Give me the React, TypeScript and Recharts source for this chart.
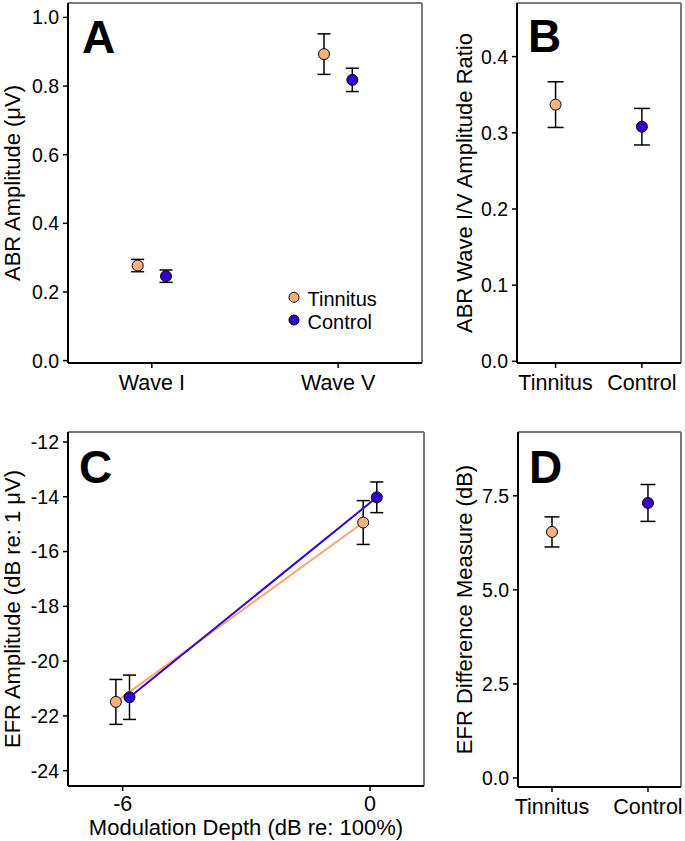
import React from 'react';
import {
  ScatterChart,
  Scatter,
  XAxis,
  YAxis,
  ErrorBar,
  ReferenceLine,
  Customized,
  Label,
} from 'recharts';

const FONT = '"Liberation Sans", Arial, Helvetica, sans-serif';
const TINNITUS_COLOR = '#FCAF7E';
const CONTROL_COLOR = '#3300CC';
const FRAME_COLOR = '#7a7a7a';

// ---------- Panel A: ABR amplitude ----------
const waveCategories = ['Wave I', 'Wave V'];
const abrTinnitusMean = [0.277, 0.893];
const abrTinnitusSem = [0.018, 0.059];
const abrControlMean = [0.246, 0.818];
const abrControlSem = [0.018, 0.034];
const abrTicks = [0, 0.2, 0.4, 0.6, 0.8, 1.0];

// ---------- Panel B: wave I/V ratio ----------
const groupCategories = ['Tinnitus', 'Control'];
const ratioMean = [0.337, 0.308];
const ratioSem = [0.03, 0.024];
const ratioTicks = [0, 0.1, 0.2, 0.3, 0.4];

// ---------- Panel C: EFR amplitude ----------
const modDepths = [-6, 0];
const efrTinnitusMean = [-21.49, -14.94];
const efrTinnitusSem = [0.82, 0.8];
const efrControlMean = [-21.32, -14.02];
const efrControlSem = [0.81, 0.56];
const efrTicks = [-24, -22, -20, -18, -16, -14, -12];

// ---------- Panel D: EFR difference ----------
const diffMean = [6.54, 7.31];
const diffSem = [0.4, 0.49];
const diffTicks = [0, 2.5, 5.0, 7.5];

const seriesNames = ['Tinnitus', 'Control'];
const seriesColors = [TINNITUS_COLOR, CONTROL_COLOR];

// group offsets (horizontal dodge)
const catDodge = 0.076;
const depthDodge = 0.165;

const abrTinnitusData = waveCategories.map((c, i) => ({ x: i + 1 - catDodge, y: abrTinnitusMean[i], err: abrTinnitusSem[i] }));
const abrControlData = waveCategories.map((c, i) => ({ x: i + 1 + catDodge, y: abrControlMean[i], err: abrControlSem[i] }));
const ratioTinnitusData = [{ x: 1, y: ratioMean[0], err: ratioSem[0] }];
const ratioControlData = [{ x: 2, y: ratioMean[1], err: ratioSem[1] }];
const efrTinnitusData = modDepths.map((d, i) => ({ x: d - depthDodge, y: efrTinnitusMean[i], err: efrTinnitusSem[i] }));
const efrControlData = modDepths.map((d, i) => ({ x: d + depthDodge, y: efrControlMean[i], err: efrControlSem[i] }));
const diffTinnitusData = [{ x: 1, y: diffMean[0], err: diffSem[0] }];
const diffControlData = [{ x: 2, y: diffMean[1], err: diffSem[1] }];

const axisLine = { stroke: '#000', strokeWidth: 2 };
const tickLine = { stroke: '#000', strokeWidth: 1.5 };
const numTick = { fill: '#000', fontSize: 19.5, fontFamily: FONT };
const catTick = { fill: '#000', fontSize: 21.5, fontFamily: FONT };

const makeDot = (fill: string, r = 5.5) => (props: any) => {
  if (props.cx == null || props.cy == null) return <g />;
  return <circle cx={props.cx} cy={props.cy} r={r} fill={fill} stroke="#000" strokeWidth={1} />;
};

const yTitle = (text: string, baselineX: number) => (props: any) => {
  const vb = props.viewBox || {};
  const cy = (vb.y || 0) + (vb.height || 0) / 2;
  return (
    <text
      x={baselineX}
      y={cy}
      transform={`rotate(-90, ${baselineX}, ${cy})`}
      textAnchor="middle"
      fontSize={22}
      fontFamily={FONT}
      fill="#000"
    >
      {text}
    </text>
  );
};

const xTitle = (text: string, baselineY: number) => (props: any) => {
  const vb = props.viewBox || {};
  const cx = (vb.x || 0) + (vb.width || 0) / 2;
  return (
    <text x={cx} y={baselineY} textAnchor="middle" fontSize={22} fontFamily={FONT} fill="#000">
      {text}
    </text>
  );
};

const PanelLetter = ({ letter, x, y }: { letter: string; x: number; y: number }) => (
  <text x={x} y={y} fontSize={46} fontWeight="bold" fontFamily={FONT} fill="#000">
    {letter}
  </text>
);

const LegendA = () => (
  <g>
    {seriesNames.map((n, i) => (
      <g key={n}>
        <circle cx={294} cy={297.3 + i * 22.7} r={5} fill={seriesColors[i]} stroke="#000" strokeWidth={1} />
        <text x={307.5} y={306.3 + i * 22.7} fontSize={20} fontFamily={FONT} fill="#000">
          {n}
        </text>
      </g>
    ))}
  </g>
);

const abrX: [number, number] = [0.55, 2.45];
const abrY: [number, number] = [-0.007, 1.042];
const ratioX: [number, number] = [0.553, 2.453];
const ratioY: [number, number] = [-0.0022, 0.4704];
const efrX: [number, number] = [-7.327, 1.31];
const efrY: [number, number] = [-24.56, -11.635];
const diffX: [number, number] = [0.646, 2.344];
const diffY: [number, number] = [-0.24, 9.196];

const frame = (xd: [number, number], yd: [number, number]) => [
  <ReferenceLine key="ft" y={yd[1]} stroke={FRAME_COLOR} strokeWidth={2} ifOverflow="visible" />,
  <ReferenceLine key="fr" x={xd[1]} stroke={FRAME_COLOR} strokeWidth={2} ifOverflow="visible" />,
];

export default function App() {
  return (
    <div style={{ position: 'absolute', left: 0, top: 0, width: 685, height: 841, background: '#fff' }}>
      {/* Panel A */}
      <div style={{ position: 'absolute', left: 0, top: 0 }}>
        <ScatterChart width={440} height={410} margin={{ top: 3, right: 18, left: 0, bottom: 0 }}>
          <XAxis
            type="number"
            dataKey="x"
            domain={abrX}
            allowDataOverflow
            ticks={[1, 2]}
            tickFormatter={(v: number) => waveCategories[Math.round(v) - 1]}
            height={47}
            axisLine={axisLine}
            tickLine={tickLine}
            tickSize={5}
            tickMargin={7}
            tick={catTick}
          />
          <YAxis
            type="number"
            dataKey="y"
            domain={abrY}
            allowDataOverflow
            ticks={abrTicks}
            tickFormatter={(v: number) => v.toFixed(1)}
            width={68}
            axisLine={axisLine}
            tickLine={tickLine}
            tickSize={5}
            tickMargin={4}
            tick={numTick}
          >
            <Label content={yTitle('ABR Amplitude (\u03BCV)', 19.5)} />
          </YAxis>
          {frame(abrX, abrY)}
          <Scatter name="Tinnitus" data={abrTinnitusData} shape={makeDot(TINNITUS_COLOR)} isAnimationActive={false}>
            <ErrorBar dataKey="err" direction="y" width={6.5} stroke="#000" strokeWidth={1.5} isAnimationActive={false} />
          </Scatter>
          <Scatter name="Control" data={abrControlData} shape={makeDot(CONTROL_COLOR)} isAnimationActive={false}>
            <ErrorBar dataKey="err" direction="y" width={6.5} stroke="#000" strokeWidth={1.5} isAnimationActive={false} />
          </Scatter>
          <Customized component={() => <PanelLetter letter="A" x={82} y={53} />} />
          <Customized component={LegendA} />
        </ScatterChart>
      </div>

      {/* Panel B */}
      <div style={{ position: 'absolute', left: 440, top: 0 }}>
        <ScatterChart width={245} height={410} margin={{ top: 3, right: 4, left: 0, bottom: 0 }}>
          <XAxis
            type="number"
            dataKey="x"
            domain={ratioX}
            allowDataOverflow
            ticks={[1, 2]}
            tickFormatter={(v: number) => groupCategories[Math.round(v) - 1]}
            height={47}
            axisLine={axisLine}
            tickLine={tickLine}
            tickSize={5}
            tickMargin={7}
            tick={catTick}
            interval={0}
          />
          <YAxis
            type="number"
            dataKey="y"
            domain={ratioY}
            allowDataOverflow
            ticks={ratioTicks}
            tickFormatter={(v: number) => v.toFixed(1)}
            width={77}
            axisLine={axisLine}
            tickLine={tickLine}
            tickSize={5}
            tickMargin={4}
            tick={numTick}
          >
            <Label content={yTitle('ABR Wave I/V Amplitude Ratio', 31.5)} />
          </YAxis>
          {frame(ratioX, ratioY)}
          <Scatter name="Tinnitus" data={ratioTinnitusData} shape={makeDot(TINNITUS_COLOR)} isAnimationActive={false}>
            <ErrorBar dataKey="err" direction="y" width={8} stroke="#000" strokeWidth={1.5} isAnimationActive={false} />
          </Scatter>
          <Scatter name="Control" data={ratioControlData} shape={makeDot(CONTROL_COLOR)} isAnimationActive={false}>
            <ErrorBar dataKey="err" direction="y" width={8} stroke="#000" strokeWidth={1.5} isAnimationActive={false} />
          </Scatter>
          <Customized component={() => <PanelLetter letter="B" x={88} y={51.7} />} />
        </ScatterChart>
      </div>

      {/* Panel C */}
      <div style={{ position: 'absolute', left: 0, top: 410 }}>
        <ScatterChart width={440} height={431} margin={{ top: 22, right: 16, left: 0, bottom: 0 }}>
          <XAxis
            type="number"
            dataKey="x"
            domain={efrX}
            allowDataOverflow
            ticks={modDepths}
            height={55}
            axisLine={axisLine}
            tickLine={tickLine}
            tickSize={5}
            tickMargin={5}
            tick={catTick}
            interval={0}
          >
            <Label content={xTitle('Modulation Depth (dB re: 100%)', 425)} />
          </XAxis>
          <YAxis
            type="number"
            dataKey="y"
            domain={efrY}
            allowDataOverflow
            ticks={efrTicks}
            width={68}
            axisLine={axisLine}
            tickLine={tickLine}
            tickSize={5}
            tickMargin={4}
            tick={numTick}
            interval={0}
          >
            <Label content={yTitle('EFR Amplitude (dB re: 1 \u03BCV)', 19.5)} />
          </YAxis>
          {frame(efrX, efrY)}
          <Scatter
            name="Tinnitus"
            data={efrTinnitusData}
            shape={makeDot(TINNITUS_COLOR)}
            line={{ stroke: '#F8A676', strokeWidth: 2 }}
            lineType="joint"
            isAnimationActive={false}
          >
            <ErrorBar dataKey="err" direction="y" width={6.5} stroke="#000" strokeWidth={1.5} isAnimationActive={false} />
          </Scatter>
          <Scatter
            name="Control"
            data={efrControlData}
            shape={makeDot(CONTROL_COLOR)}
            line={{ stroke: CONTROL_COLOR, strokeWidth: 2 }}
            lineType="joint"
            isAnimationActive={false}
          >
            <ErrorBar dataKey="err" direction="y" width={6.5} stroke="#000" strokeWidth={1.5} isAnimationActive={false} />
          </Scatter>
          <Customized component={() => <PanelLetter letter="C" x={79} y={73} />} />
        </ScatterChart>
      </div>

      {/* Panel D */}
      <div style={{ position: 'absolute', left: 440, top: 410 }}>
        <ScatterChart width={245} height={431} margin={{ top: 22, right: 4, left: 0, bottom: 0 }}>
          <XAxis
            type="number"
            dataKey="x"
            domain={diffX}
            allowDataOverflow
            ticks={[1, 2]}
            tickFormatter={(v: number) => groupCategories[Math.round(v) - 1]}
            height={54}
            axisLine={axisLine}
            tickLine={tickLine}
            tickSize={5}
            tickMargin={7}
            tick={catTick}
            interval={0}
          />
          <YAxis
            type="number"
            dataKey="y"
            domain={diffY}
            allowDataOverflow
            ticks={diffTicks}
            tickFormatter={(v: number) => v.toFixed(1)}
            width={78}
            axisLine={axisLine}
            tickLine={tickLine}
            tickSize={5}
            tickMargin={4}
            tick={numTick}
            interval={0}
          >
            <Label content={yTitle('EFR Difference Measure (dB)', 32)} />
          </YAxis>
          {frame(diffX, diffY)}
          <Scatter name="Tinnitus" data={diffTinnitusData} shape={makeDot(TINNITUS_COLOR)} isAnimationActive={false}>
            <ErrorBar dataKey="err" direction="y" width={7.5} stroke="#000" strokeWidth={1.5} isAnimationActive={false} />
          </Scatter>
          <Scatter name="Control" data={diffControlData} shape={makeDot(CONTROL_COLOR)} isAnimationActive={false}>
            <ErrorBar dataKey="err" direction="y" width={7.5} stroke="#000" strokeWidth={1.5} isAnimationActive={false} />
          </Scatter>
          <Customized component={() => <PanelLetter letter="D" x={89} y={73} />} />
        </ScatterChart>
      </div>
    </div>
  );
}
